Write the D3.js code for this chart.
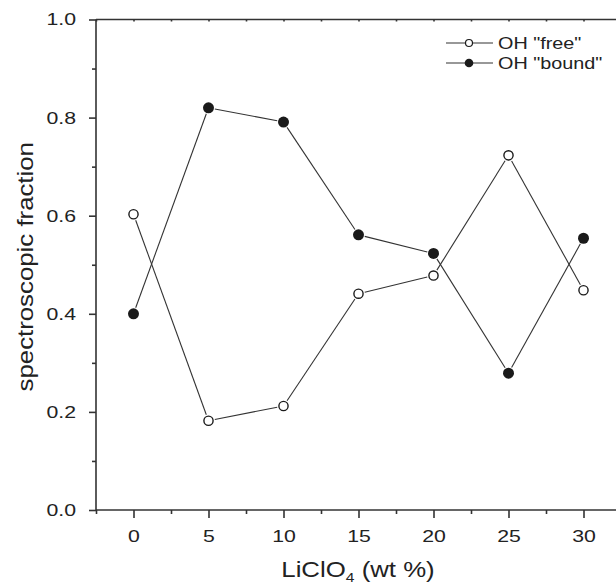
<!DOCTYPE html>
<html>
<head>
<meta charset="utf-8">
<script src="https://cdn.jsdelivr.net/npm/d3@7"></script>
<style>
  body { margin: 0; background: #fff; }
  text { font-family: 'Liberation Sans', Arial, sans-serif; fill: #222; }
</style>
</head>
<body>
<div id="chart"></div>
<script>
// Data
const concentrations = [0, 5, 10, 15, 20, 25, 30]
const freeFraction = [0.603, 0.182, 0.212, 0.441, 0.478, 0.723, 0.448]
const boundFraction = [0.400, 0.820, 0.791, 0.561, 0.523, 0.279, 0.554]
const xTicks = [0, 5, 10, 15, 20, 25, 30]
const yTicks = [0, 0.2, 0.4, 0.6, 0.8, 1.0]
const seriesNames = ['OH "free"', 'OH "bound"']

// Dimensions
const dims = {
  width: 616,
  height: 585,
  left: 96,
  right: 621,
  top: 19.5,
  bottom: 510
}
// the original lettering is wide, so text gets stretched sideways
const stretch = 1.25

const svg = d3.select('#chart')
  .append('svg')
  .attr('width', dims.width)
  .attr('height', dims.height)

// Scales
const xScale = d3.scaleLinear().domain([-2.5, 32.5]).range([dims.left, dims.right])
const yScale = d3.scaleLinear().domain([0, 1]).range([dims.bottom, dims.top])

// Axes
const xAxis = d3.axisBottom(xScale)
  .tickValues(xTicks)
  .tickSize(8)
  .tickPadding(12)
  .tickFormat(d3.format('d'))

const xAxisGroup = svg.append('g')
  .attr('transform', `translate(0,${dims.bottom})`)
  .call(xAxis)
xAxisGroup.select('.domain').attr('d', `M${dims.left},0H${dims.right}`)

const xMinor = d3.axisBottom(xScale)
  .tickValues(d3.range(-2.5, 33, 5))
  .tickSize(4)
  .tickFormat('')
svg.append('g')
  .attr('transform', `translate(0,${dims.bottom})`)
  .call(xMinor)
  .select('.domain').remove()

// top axis (mirror ticks)
const xTop = d3.axisBottom(xScale)
  .tickValues(d3.range(-2.5, 33, 2.5))
  .tickSize(2)
  .tickFormat('')
const topGroup = svg.append('g')
  .attr('transform', `translate(0,${dims.top})`)
  .call(xTop)
topGroup.select('.domain').attr('d', `M${dims.left},0H${dims.right}`)

const yAxis = d3.axisLeft(yScale)
  .tickValues(yTicks)
  .tickSize(7)
  .tickPadding(13)
  .tickFormat(d3.format('.1f'))
const yAxisGroup = svg.append('g')
  .attr('transform', `translate(${dims.left},0)`)
  .call(yAxis)
yAxisGroup.select('.domain').attr('d', `M0,${dims.top}V${dims.bottom}`)

const yMinor = d3.axisLeft(yScale)
  .tickValues([0.1, 0.3, 0.5, 0.7, 0.9])
  .tickSize(4)
  .tickFormat('')
svg.append('g')
  .attr('transform', `translate(${dims.left},0)`)
  .call(yMinor)
  .select('.domain').remove()

svg.selectAll('.domain, .tick line')
  .attr('stroke', '#333')
  .attr('stroke-width', 1.6)
svg.selectAll('.tick text')
  .attr('font-size', 17)
  .attr('fill', '#222')
  .style('font-family', "'Liberation Sans', Arial, sans-serif")
  .attr('transform', `scale(${stretch},1)`)
yAxisGroup.selectAll('.tick text')
  .attr('x', -20 / stretch)

// Series lines with gaps at markers
const r = 4.6
function drawSeries(values, filled) {
  const pts = concentrations.map((c, i) => [xScale(c), yScale(values[i])])
  const g = svg.append('g')
  for (let i = 0; i < pts.length - 1; i++) {
    const [x1, y1] = pts[i]
    const [x2, y2] = pts[i + 1]
    const len = Math.hypot(x2 - x1, y2 - y1)
    const ux = (x2 - x1) / len, uy = (y2 - y1) / len
    const gap = r + 1.8
    g.append('line')
      .attr('x1', x1 + ux * gap).attr('y1', y1 + uy * gap)
      .attr('x2', x2 - ux * gap).attr('y2', y2 - uy * gap)
      .attr('stroke', '#333')
      .attr('stroke-width', 1.1)
  }
  g.selectAll('circle')
    .data(pts)
    .join('circle')
    .attr('cx', d => d[0])
    .attr('cy', d => d[1])
    .attr('r', filled ? 5.5 : r)
    .attr('fill', filled ? '#1a1a1a' : '#fff')
    .attr('stroke', '#1a1a1a')
    .attr('stroke-width', filled ? 0 : 1.4)
}
drawSeries(freeFraction, false)
drawSeries(boundFraction, true)

// Legend
const legend = svg.append('g')
seriesNames.forEach((name, i) => {
  const y = 43 + i * 20
  const filled = i === 1
  legend.append('line')
    .attr('x1', 446).attr('x2', 493)
    .attr('y1', y).attr('y2', y)
    .attr('stroke', '#333').attr('stroke-width', 1.1)
  legend.append('circle')
    .attr('cx', 469).attr('cy', y)
    .attr('r', filled ? 4.3 : 3.5)
    .attr('fill', filled ? '#1a1a1a' : '#fff')
    .attr('stroke', '#1a1a1a')
    .attr('stroke-width', filled ? 0 : 1.2)
  legend.append('text')
    .attr('transform', `translate(498,${y + 6}) scale(1.2,1)`)
    .attr('font-size', 16.5)
    .text(name)
})

// Axis titles
const xTitle = svg.append('text')
  .attr('transform', `translate(358,577) scale(1.2,1)`)
  .attr('text-anchor', 'middle')
  .attr('font-size', 21.5)
xTitle.append('tspan').text('LiClO')
xTitle.append('tspan').attr('font-size', 13).attr('dy', 5).text('4')
xTitle.append('tspan').attr('dy', -5).text(' (wt %)')

svg.append('text')
  .attr('transform', `translate(33,${(dims.top + dims.bottom) / 2 + 2}) rotate(-90) scale(1.2,1)`)
  .attr('text-anchor', 'middle')
  .attr('font-size', 21.5)
  .text('spectroscopic fraction')
</script>
</body>
</html>
